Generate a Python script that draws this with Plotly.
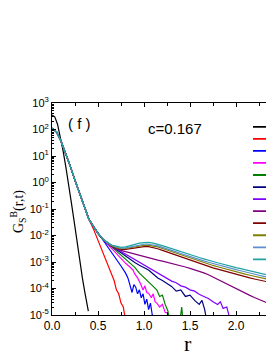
import plotly.graph_objects as go

# ---------------- data (log10 of G_s^B) ----------------
r_black = [0.0, 0.03, 0.06, 0.09, 0.12, 0.15, 0.18, 0.21, 0.24, 0.27, 0.30, 0.33, 0.36, 0.38, 0.395]
g_black = [2.55, 2.48, 2.2, 1.75, 1.2, 0.6, 0.0, -0.75, -1.45, -2.2, -2.95, -3.6, -4.2, -4.6, -4.85]

# common head shared by all the other curves
r_head = [0.0, 0.05, 0.1, 0.15, 0.2, 0.25, 0.3, 0.35, 0.4]
g_head = [2.05, 1.9, 1.55, 1.1, 0.6, 0.08, -0.4, -0.9, -1.38]

r_red = [0.45, 0.5, 0.55, 0.6, 0.625, 0.65, 0.675, 0.7, 0.725, 0.75, 0.775, 0.8]
g_red = [-1.75, -2.2, -2.62, -3.08, -3.25, -3.55, -3.7, -4.05, -4.2, -4.55, -4.7, -5.2]

r_blue = [0.45, 0.5, 0.55, 0.6, 0.65, 0.7, 0.75, 0.8, 0.825, 0.85, 0.87, 0.89, 0.91, 0.93,
          0.95, 0.97, 0.99, 1.01, 1.03, 1.05, 1.07, 1.09, 1.11]
g_blue = [-1.65, -1.9, -2.12, -2.38, -2.62, -2.88, -3.15, -3.42, -3.6, -3.9, -4.15, -3.85, -3.95,
          -4.2, -4.05, -4.35, -4.2, -4.6, -4.4, -4.8, -4.55, -5.0, -5.3]

r_mag = [0.45, 0.5, 0.55, 0.6, 0.65, 0.7, 0.75, 0.8, 0.85, 0.88, 0.9, 0.93, 0.96, 0.99, 1.01,
         1.03, 1.05, 1.08, 1.1, 1.12, 1.14, 1.17, 1.2, 1.23, 1.25, 1.27, 1.29]
g_mag = [-1.65, -1.92, -2.13, -2.32, -2.5, -2.7, -2.88, -3.05, -3.2, -3.3, -3.45, -3.6, -3.8, -4.06,
         -3.9, -4.15, -4.18, -4.35, -4.2, -4.5, -4.55, -4.7, -4.6, -4.9, -4.92, -5.0, -5.3]

r_green = [0.45, 0.5, 0.55, 0.6, 0.65, 0.7, 0.75, 0.8, 0.85, 0.9, 0.95, 1.0, 1.05, 1.1, 1.14,
           1.17, 1.2, 1.23, 1.26, 1.28, 1.38, 1.41, 1.43]
g_green = [-1.65, -1.92, -2.13, -2.28, -2.45, -2.6, -2.75, -2.9, -3.05, -3.2, -3.42, -3.6, -3.78,
           -3.92, -4.06, -4.3, -4.25, -4.6, -4.85, -5.3, -5.5, -4.7, -5.5]

r_navy = [0.45, 0.5, 0.55, 0.6, 0.65, 0.7, 0.75, 0.8, 0.85, 0.9, 0.95, 1.0, 1.05, 1.1, 1.15, 1.2,
          1.25, 1.3, 1.35, 1.4, 1.45, 1.5, 1.55, 1.6, 1.63, 1.66, 1.68]
g_navy = [-1.65, -1.92, -2.13, -2.27, -2.4, -2.53, -2.65, -2.78, -2.9, -3.02, -3.12, -3.22, -3.3,
          -3.45, -3.6, -3.7, -3.8, -3.92, -4.1, -4.05, -4.3, -4.25, -4.45, -4.6, -4.45, -4.8, -5.2]

r_violet = [0.45, 0.5, 0.55, 0.6, 0.65, 0.7, 0.75, 0.8, 0.85, 0.9, 0.95, 1.0, 1.05, 1.1, 1.15, 1.2,
            1.25, 1.3, 1.35, 1.4, 1.45, 1.5, 1.55, 1.6, 1.65, 1.7, 1.75, 1.8, 1.83, 1.86, 1.9, 1.93]
g_violet = [-1.65, -1.92, -2.13, -2.28, -2.4, -2.5, -2.6, -2.7, -2.8, -2.9, -3.0, -3.1, -3.2, -3.3,
            -3.42, -3.5, -3.62, -3.72, -3.78, -3.9, -3.95, -4.05, -4.1, -4.22, -4.3, -4.38, -4.5,
            -4.6, -4.5, -4.75, -4.7, -5.1]

r_grp = [0.45, 0.5, 0.55, 0.6, 0.65, 0.7, 0.75, 0.8, 0.85, 0.9, 0.95, 1.0, 1.05, 1.1, 1.15, 1.2,
         1.25, 1.3, 1.35, 1.4, 1.45, 1.5, 1.55, 1.6, 1.65, 1.7, 1.75, 1.8, 1.85, 1.9, 1.95, 2.0,
         2.05, 2.1, 2.15, 2.2, 2.25, 2.3, 2.35, 2.4, 2.45]
g_purple = [-1.65, -1.92, -2.13, -2.29, -2.41, -2.5, -2.56, -2.61, -2.66, -2.71, -2.76, -2.81, -2.85,
            -2.89, -2.93, -2.97, -3.01, -3.05, -3.1, -3.14, -3.19, -3.24, -3.29, -3.34, -3.41, -3.48,
            -3.57, -3.66, -3.75, -3.84, -3.93, -4.02, -4.1, -4.18, -4.26, -4.34, -4.42, -4.5, -4.56,
            -4.62, -4.67]
g_wine = [-1.65, -1.92, -2.13, -2.28, -2.4, -2.48, -2.52, -2.52, -2.49, -2.46, -2.43, -2.42, -2.42,
          -2.45, -2.5, -2.56, -2.62, -2.69, -2.75, -2.82, -2.88, -2.94, -3.0, -3.06, -3.12, -3.17,
          -3.22, -3.27, -3.32, -3.37, -3.42, -3.46, -3.51, -3.55, -3.6, -3.64, -3.68, -3.72, -3.76,
          -3.8, -3.83]
g_olive = [-1.65, -1.92, -2.12, -2.27, -2.39, -2.46, -2.5, -2.49, -2.46, -2.42, -2.39, -2.37, -2.37,
           -2.39, -2.43, -2.49, -2.55, -2.62, -2.68, -2.74, -2.8, -2.86, -2.92, -2.97, -3.03, -3.08,
           -3.13, -3.18, -3.23, -3.28, -3.33, -3.37, -3.41, -3.46, -3.5, -3.54, -3.58, -3.62, -3.66,
           -3.7, -3.73]
g_steel = [-1.65, -1.92, -2.12, -2.27, -2.38, -2.44, -2.48, -2.47, -2.43, -2.39, -2.35, -2.33, -2.33,
           -2.35, -2.39, -2.45, -2.5, -2.57, -2.62, -2.68, -2.74, -2.8, -2.85, -2.9, -2.96, -3.01,
           -3.06, -3.11, -3.16, -3.2, -3.25, -3.29, -3.33, -3.38, -3.42, -3.46, -3.5, -3.54, -3.58,
           -3.62, -3.65]
g_teal = [-1.65, -1.92, -2.12, -2.26, -2.36, -2.42, -2.45, -2.43, -2.38, -2.33, -2.29, -2.27, -2.26,
          -2.29, -2.33, -2.38, -2.44, -2.5, -2.55, -2.62, -2.66, -2.73, -2.78, -2.83, -2.88, -2.94,
          -2.98, -3.03, -3.08, -3.12, -3.17, -3.21, -3.25, -3.29, -3.34, -3.38, -3.41, -3.45, -3.5,
          -3.55, -3.58]

y_tick_exps = [3, 2, 1, 0, -1, -2, -3, -4, -5]
x_tick_vals = [0.0, 0.5, 1.0, 1.5, 2.0]
x_tick_text = ["0.0", "0.5", "1.0", "1.5", "2.0"]

colors = ["black", "#FF0000", "#0000FF", "#FF00FF", "#008000", "#000080",
          "#8000FF", "#800080", "#800000", "#808000", "#5B8FCF", "#1FA3A3"]

series = [
    (r_black, g_black, False),
    (r_red, g_red, True),
    (r_blue, g_blue, True),
    (r_mag, g_mag, True),
    (r_green, g_green, True),
    (r_navy, g_navy, True),
    (r_violet, g_violet, True),
    (r_grp, g_purple, True),
    (r_grp, g_wine, True),
    (r_grp, g_olive, True),
    (r_grp, g_steel, True),
    (r_grp, g_teal, True),
]

# ---------------- figure ----------------
fig = go.Figure()
for color, (rr, gg, with_head) in zip(colors, series):
    xs = (r_head + rr) if with_head else rr
    ys = (g_head + gg) if with_head else gg
    fig.add_trace(go.Scatter(
        x=xs, y=[10 ** v for v in ys], mode="lines",
        line=dict(color=color, width=1.2), showlegend=False, hoverinfo="skip"))

OFF = 8                       # page body margin
W, H = 274 - OFF, 355 - OFF   # figure size so that it fills the window
L, T, B = 52 - OFF, 103 - OFF, 355 - 315
pw = W - L
ph = H - T - B


def px(X):
    return (X - OFF - L) / pw


def py(Y):
    return (OFF + T + ph - Y) / ph


minor_vals = [k * 10 ** e for e in range(-5, 3) for k in range(2, 10)]

fig.update_layout(
    width=W, height=H,
    margin=dict(l=L, r=0, t=T, b=B, pad=0),
    paper_bgcolor="white", plot_bgcolor="white",
    font=dict(family="Arial, Liberation Sans, sans-serif", color="black", size=12),
    showlegend=False,
    xaxis=dict(
        range=[0, pw / 92.0], showgrid=False, zeroline=False,
        showline=True, linecolor="black", linewidth=1, mirror="ticks",
        ticks="inside", ticklen=4, tickcolor="black", tickwidth=1,
        tickmode="array", tickvals=x_tick_vals, ticktext=x_tick_text,
        tickfont=dict(size=12),
        minor=dict(ticks="inside", ticklen=3, tickcolor="black",
                   tickvals=[0.25, 0.75, 1.25, 1.75, 2.25]),
    ),
    yaxis=dict(
        type="log", range=[-5, 3], showgrid=False, zeroline=False,
        showline=True, linecolor="black", linewidth=1, mirror=False,
        ticks="inside", ticklen=4, tickcolor="black", tickwidth=1,
        tickmode="array", tickvals=[10 ** e for e in y_tick_exps],
        ticktext=["10<sup>%d</sup>" % e for e in y_tick_exps],
        tickfont=dict(size=11),
        minor=dict(ticks="inside", ticklen=2, tickcolor="black", tickvals=minor_vals),
    ),
)

# y-axis title (serif)
fig.add_annotation(
    xref="paper", yref="paper", x=px(18), y=py(212),
    text="G<sub>S</sub><sup>B</sup>(r,t)", textangle=-90, showarrow=False,
    font=dict(family="Times New Roman, Liberation Serif, serif", size=14),
    xanchor="center", yanchor="middle")
# x-axis title
fig.add_annotation(
    xref="paper", yref="paper", x=px(188), y=py(343),
    text="r", showarrow=False,
    font=dict(family="Times New Roman, Liberation Serif, serif", size=22),
    xanchor="center", yanchor="middle")
# panel labels
fig.add_annotation(xref="paper", yref="paper", x=px(79), y=py(123),
                   text="( f )", showarrow=False, font=dict(size=15),
                   xanchor="center", yanchor="middle")
fig.add_annotation(xref="paper", yref="paper", x=px(175), y=py(128),
                   text="c=0.167", showarrow=False, font=dict(size=15),
                   xanchor="center", yanchor="middle")

# legend samples (their labels lie outside the visible figure)
for i, c in enumerate(colors):
    yp = py(126.8 + 12.05 * i)
    fig.add_shape(type="line", xref="paper", yref="paper",
                  x0=px(253), x1=1.05, y0=yp, y1=yp,
                  line=dict(color=c, width=1.8))

fig.write_html("out.html")
